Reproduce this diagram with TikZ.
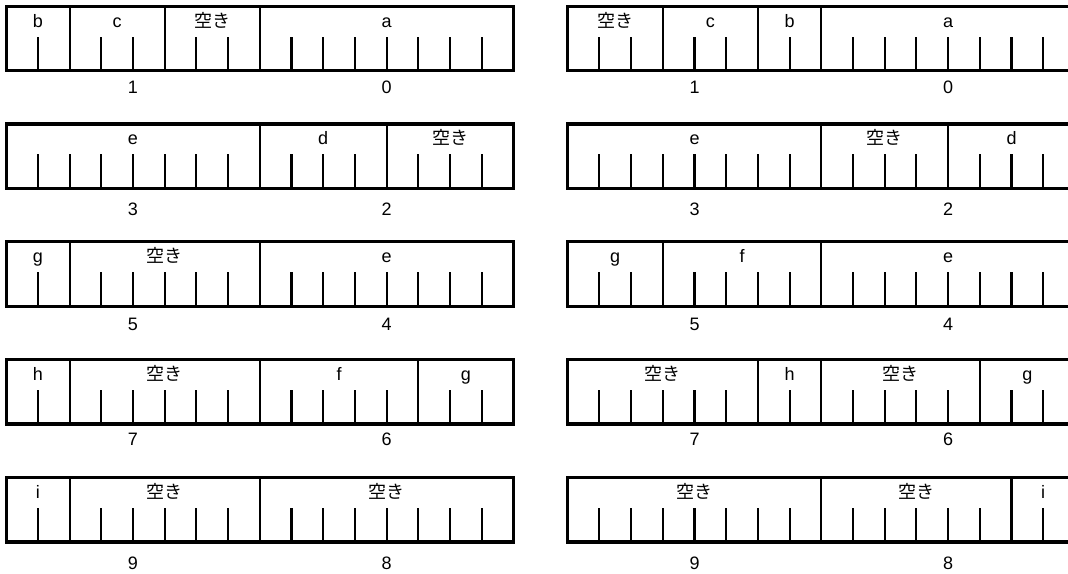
\documentclass[tikz,border=0pt]{standalone}
\usepackage{fontspec}
\setmainfont{Liberation Sans}
\newfontfamily\jpfont{Noto Sans CJK JP}
\usepackage{tikz}
\usetikzlibrary{calc}
\newcommand{\aki}{{\jpfont 空き}}
\newcommand{\cw}{31.7}    % one bit cell
\newcommand{\wh}{64.5}    % height of a word
\newcommand{\tickh}{34}   % bit tick

% one 16-bit word: name, top-left x, y, fields (start/width/text), high byte, low byte, gap to byte number
\newcommand{\regword}[7]{%
  \coordinate (#1) at (#2,#3);
  \draw[frame] (#1) rectangle ++(16*\cw,-\wh);
  \foreach \i in {1,...,15}
    \draw[tick] ($(#1)+(\i*\cw,-\wh)$) -- ++(0,\tickh);
  \foreach \s/\n/\lbl in {#4} {
    \ifnum\s>0 \draw[tick] ($(#1)+(\s*\cw,0)$) -- ++(0,-\wh);\fi
    \node[fld] (#1-f\s) at ($(#1)+({(\s+\n/2)*\cw},-21)$) {\lbl};
  }
  \node[byte] (#1-hi) at ($(#1)+(4*\cw,-\wh-#7)$) {#5};
  \node[byte] (#1-lo) at ($(#1)+(12*\cw,-\wh-#7)$) {#6};
}

\begin{document}
\begin{tikzpicture}[
  x=0.75pt, y=0.75pt,
  font=\fontsize{13.5}{15}\selectfont,
  frame/.style={draw, line width=2.5pt},
  tick/.style={draw, line width=1.6pt},
  fld/.style={anchor=base, inner sep=0pt},
  byte/.style={anchor=base, inner sep=0pt},
]
\useasboundingbox (0,0) rectangle (1068,574);
\clip (0,0) rectangle (1068,574);

% ---- left column ----
\regword{L1}{6.2}{567.8}{0/2/b, 2/3/c, 5/3/\aki, 8/8/a}{1}{0}{23}
\regword{L2}{6.2}{450}{0/8/e, 8/4/d, 12/4/\aki}{3}{2}{27.5}
\regword{L3}{6.2}{332.2}{0/2/g, 2/6/\aki, 8/8/e}{5}{4}{24}
\regword{L4}{6.2}{214.4}{0/2/h, 2/6/\aki, 8/5/f, 13/3/g}{7}{6}{21.5}
\regword{L5}{6.2}{96.6}{0/2/i, 2/6/\aki, 8/8/\aki}{9}{8}{28}

% ---- right column (runs off the right edge) ----
\regword{R1}{567.7}{567.8}{0/3/\aki, 3/3/c, 6/2/b, 8/8/a}{1}{0}{23}
\regword{R2}{567.7}{450}{0/8/e, 8/4/\aki, 12/4/d}{3}{2}{27.5}
\regword{R3}{567.7}{332.2}{0/3/g, 3/5/f, 8/8/e}{5}{4}{24}
\regword{R4}{567.7}{214.4}{0/6/\aki, 6/2/h, 8/5/\aki, 13/3/g}{7}{6}{21.5}
\regword{R5}{567.7}{96.6}{0/8/\aki, 8/6/\aki, 14/2/i}{9}{8}{28}
\end{tikzpicture}
\end{document}
